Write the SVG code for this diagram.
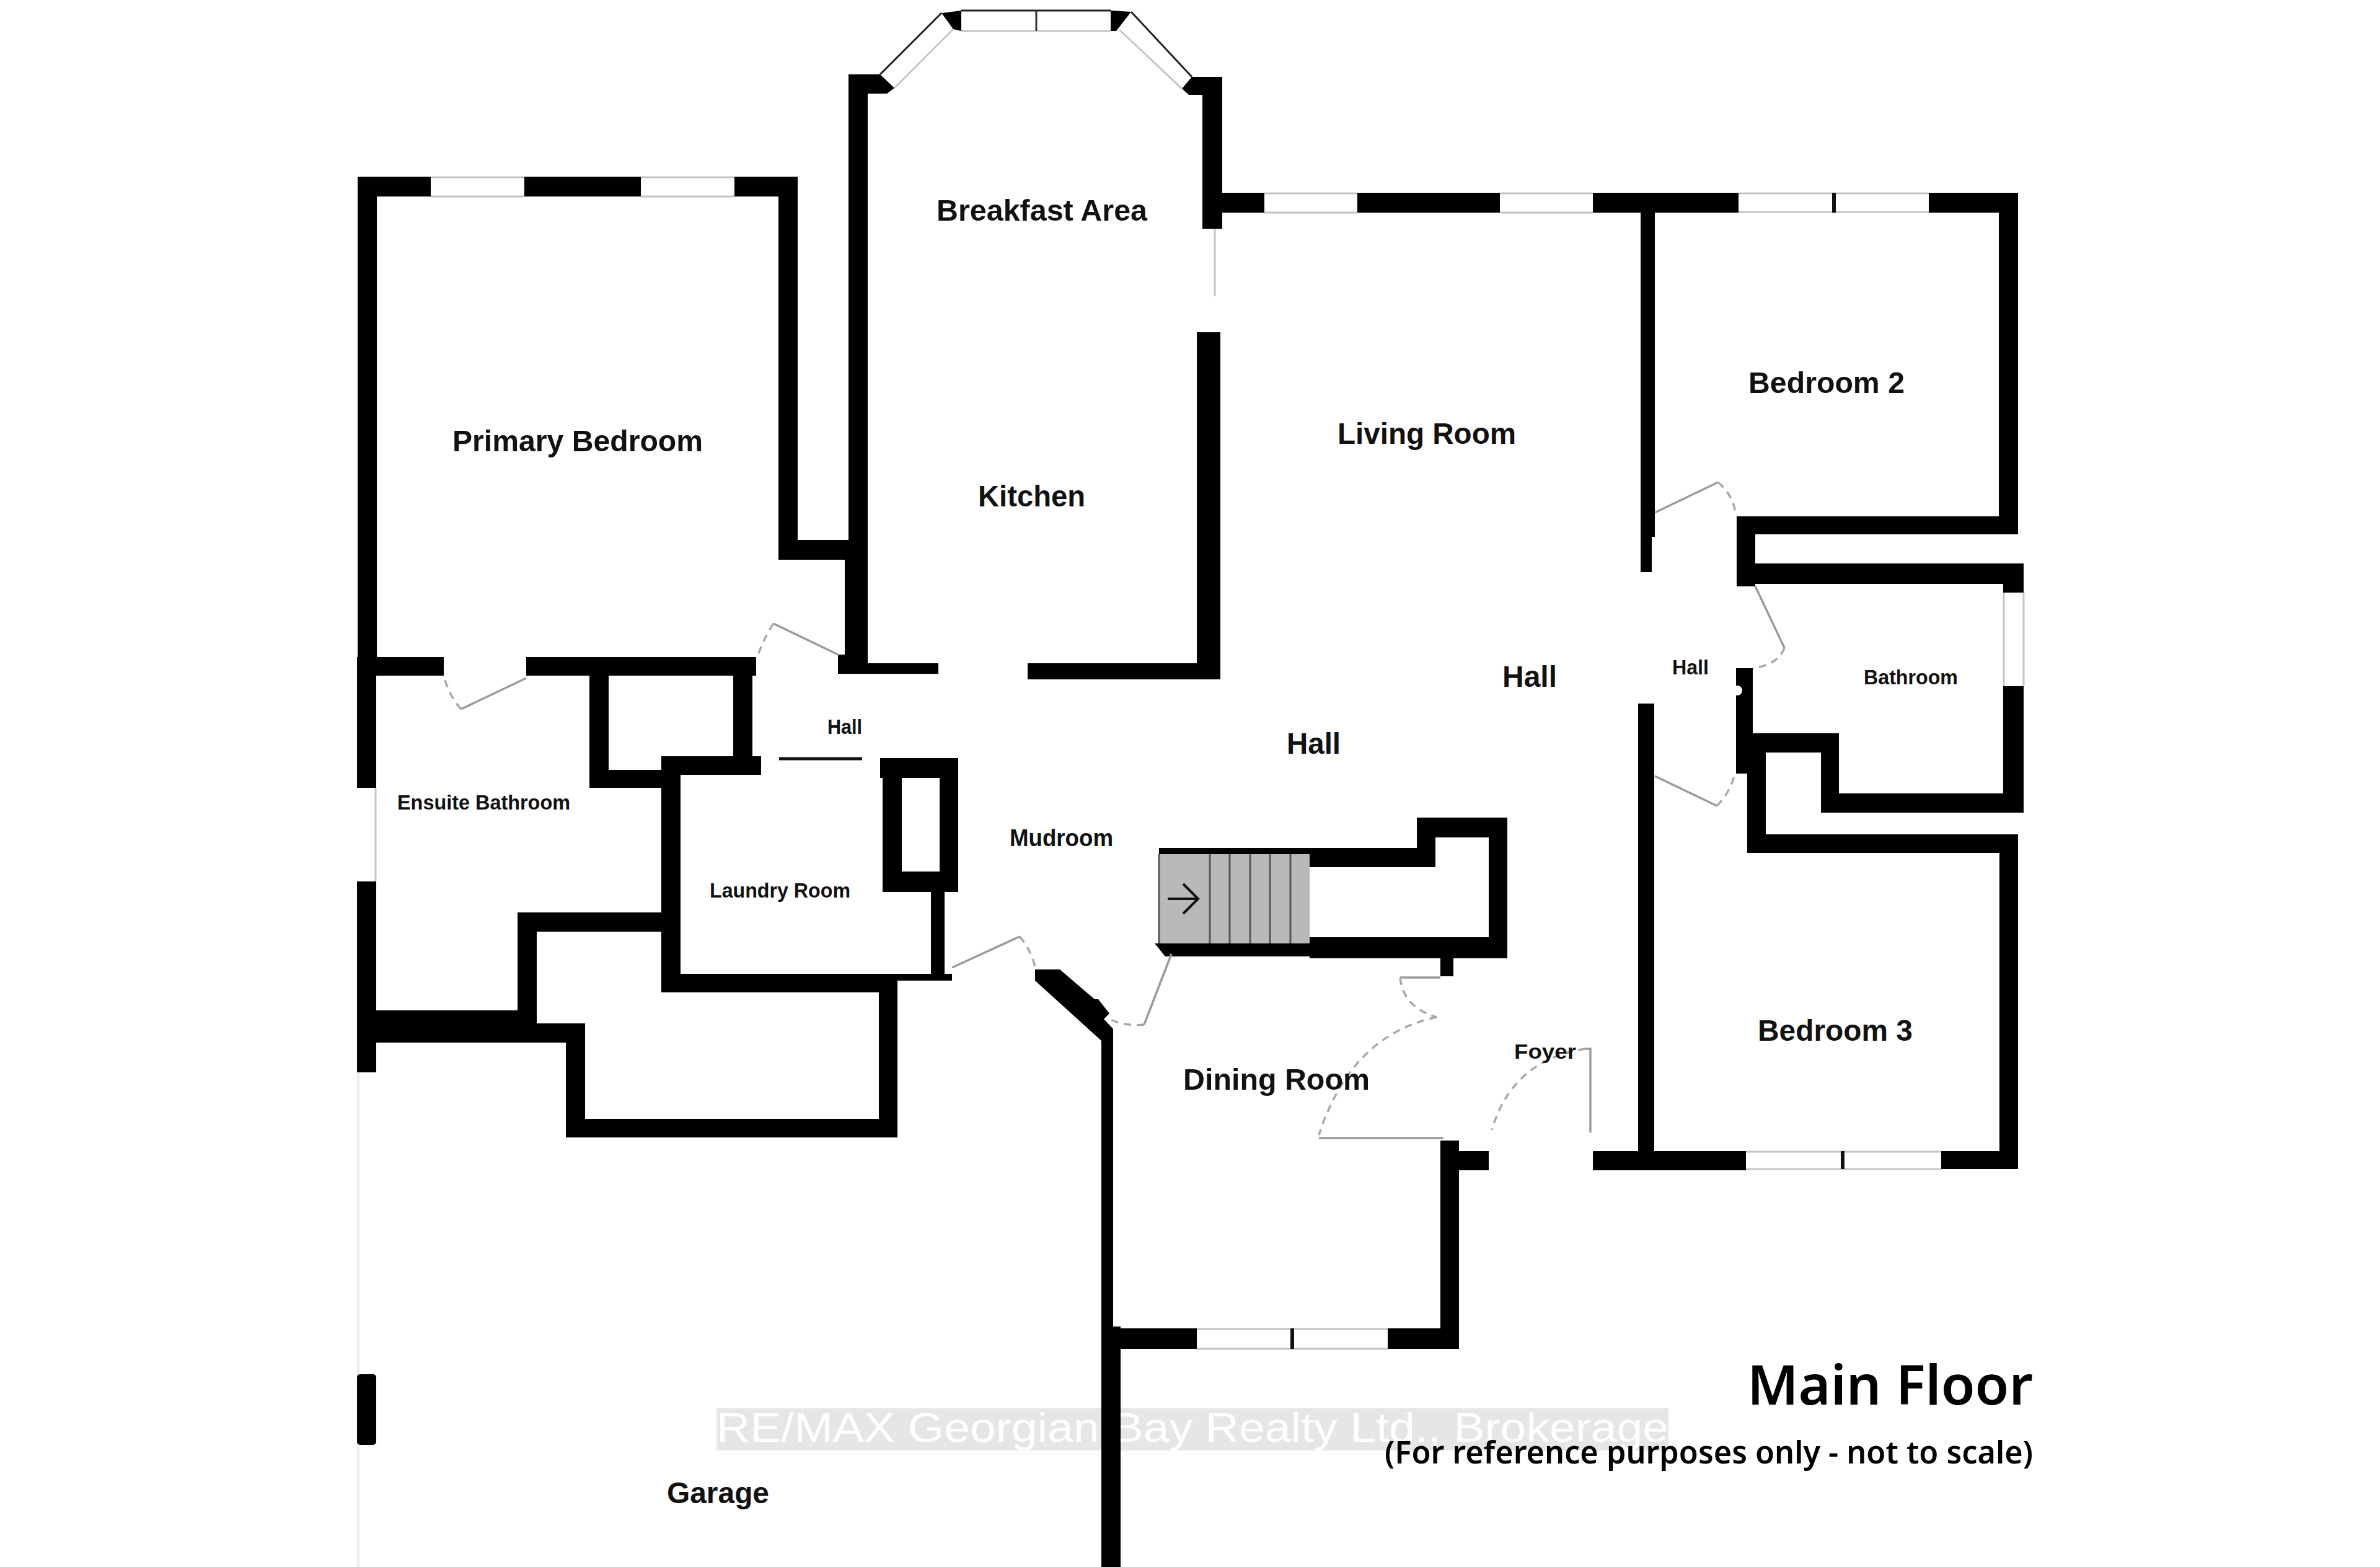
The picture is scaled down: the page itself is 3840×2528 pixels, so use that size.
<svg xmlns="http://www.w3.org/2000/svg" width="3840" height="2528" viewBox="0 0 3840 2528">
<style>
.w{fill:#000}
.gl{stroke:#c4c4c4;stroke-width:3;fill:none}
.ml{stroke:#111;stroke-width:6;fill:none}
.door{stroke:#9a9a9a;stroke-width:3.5;fill:none}
.arc{stroke:#a8a8a8;stroke-width:3.5;fill:none;stroke-dasharray:12 9}
.t{font-family:"Liberation Sans",Arial,sans-serif;font-weight:700;fill:#111}
.l{font-size:48px}.s{font-size:34px}
.h{font-family:"Noto Sans","Open Sans",sans-serif;font-weight:600;fill:#000}
</style>
<rect width="3840" height="2528" fill="#fff"/>
<g id="watermark">
<rect x="1156" y="2272" width="1536" height="68" fill="#e6e6e6"/>
<text x="1156" y="2326" font-family="Liberation Sans,Arial,sans-serif" font-size="66" fill="#fff" textLength="1536" lengthAdjust="spacingAndGlyphs">RE/MAX Georgian Bay Realty Ltd., Brokerage</text>
</g>
<g id="garage-lines">
<line x1="578" y1="1730" x2="578" y2="2528" stroke="#ececec" stroke-width="4"/>
</g>
<g id="walls">
<!-- primary bedroom -->
<rect class="w" x="577" y="285" width="118" height="32"/>
<rect class="w" x="846" y="285" width="188" height="32"/>
<rect class="w" x="1185" y="285" width="102" height="32"/>
<rect class="w" x="577" y="285" width="31" height="800"/>
<rect class="w" x="1256" y="285" width="31" height="618"/>
<rect class="w" x="1256" y="871" width="113" height="32"/>
<rect class="w" x="577" y="1060" width="139" height="30"/>
<rect class="w" x="849" y="1060" width="371" height="30"/>
<!-- kitchen -->
<rect class="w" x="1369" y="120" width="31" height="960"/>
<rect class="w" x="1363" y="871" width="37" height="216"/>
<polygon class="w" points="1369,120 1420,120 1443,142 1431,151 1369,151"/>
<rect class="w" x="1352" y="1056" width="48" height="31"/>
<rect class="w" x="1352" y="1070" width="162" height="17"/>
<rect class="w" x="1658" y="1070" width="311" height="26"/>
<rect class="w" x="1931" y="536" width="38" height="560"/>
<polygon class="w" points="1923,124 1972,124 1972,153 1918,153 1907,143"/>
<rect class="w" x="1940" y="124" width="32" height="245"/>
<polygon class="w" points="1519,21 1551,17 1551,50 1538,47"/>
<polygon class="w" points="1792,17 1825,19 1801,50 1792,50"/>
<!-- living room top -->
<rect class="w" x="1968" y="311" width="72" height="32"/>
<rect class="w" x="2190" y="311" width="230" height="32"/>
<rect class="w" x="2570" y="311" width="235" height="32"/>
<rect class="w" x="3112" y="311" width="144" height="32"/>
<rect class="w" x="2647" y="311" width="23" height="555"/>
<rect class="w" x="2647" y="860" width="18" height="63"/>
<rect class="w" x="2643" y="1135" width="26" height="751"/>
<!-- bedroom 2 -->
<rect class="w" x="3225" y="311" width="31" height="551"/>
<rect class="w" x="2802" y="833" width="454" height="29"/>
<rect class="w" x="2802" y="833" width="30" height="113"/>
<!-- bathroom -->
<rect class="w" x="2802" y="909" width="463" height="33"/>
<rect class="w" x="3232" y="909" width="33" height="47"/>
<rect class="w" x="3232" y="1107" width="33" height="204"/>
<rect class="w" x="2938" y="1280" width="327" height="31"/>
<rect class="w" x="2938" y="1183" width="29" height="128"/>
<rect class="w" x="2804" y="1183" width="163" height="31"/>
<rect class="w" x="2801" y="1078" width="27" height="170"/>
<circle cx="2803" cy="1114" r="8" fill="#fff"/>
<!-- bedroom 3 -->
<rect class="w" x="2819" y="1214" width="30" height="162"/>
<rect class="w" x="2819" y="1346" width="437" height="30"/>
<rect class="w" x="3226" y="1346" width="30" height="540"/>
<rect class="w" x="2570" y="1857" width="247" height="31"/>
<rect class="w" x="3132" y="1857" width="124" height="29"/>
<!-- ensuite / closets -->
<rect class="w" x="576" y="1060" width="31" height="211"/>
<rect class="w" x="576" y="1422" width="31" height="308"/>
<rect class="w" x="951" y="1060" width="31" height="211"/>
<rect class="w" x="951" y="1242" width="130" height="29"/>
<rect class="w" x="1183" y="1060" width="31" height="170"/>
<rect class="w" x="1067" y="1220" width="161" height="30"/>
<rect class="w" x="1067" y="1220" width="31" height="381"/>
<rect class="w" x="1067" y="1571" width="351" height="30"/>
<rect class="w" x="1418" y="1571" width="118" height="11"/>
<rect class="w" x="835" y="1472" width="232" height="31"/>
<rect class="w" x="835" y="1472" width="31" height="179"/>
<rect class="w" x="607" y="1630" width="228" height="52"/>
<rect class="w" x="835" y="1651" width="109" height="31"/>
<rect class="w" x="913" y="1651" width="31" height="184"/>
<rect class="w" x="913" y="1805" width="535" height="30"/>
<rect class="w" x="1418" y="1582" width="30" height="253"/>
<!-- laundry closet -->
<rect class="w" x="1420" y="1223" width="126" height="32"/>
<rect class="w" x="1424" y="1223" width="31" height="216"/>
<rect class="w" x="1516" y="1223" width="30" height="216"/>
<rect class="w" x="1424" y="1406" width="122" height="33"/>
<rect class="w" x="1502" y="1439" width="22" height="143"/>
<!-- garage east -->
<polygon class="w" points="1670,1564 1710,1564 1766,1612 1772,1612 1790,1635 1781,1644 1796,1660 1796,2140 1808,2140 1808,2528 1777,2528 1777,1679 1670,1582"/>
<rect class="w" x="576" y="2217" width="31" height="114" rx="5"/>
<!-- dining -->
<rect class="w" x="1798" y="2143" width="133" height="33"/>
<rect class="w" x="2239" y="2143" width="115" height="33"/>
<rect class="w" x="2324" y="1840" width="30" height="336"/>
<rect class="w" x="2354" y="1857" width="48" height="31"/>
<rect class="w" x="2324" y="1546" width="21" height="29"/>
<!-- stair enclosure -->
<rect class="w" x="1870" y="1368" width="446" height="10"/>
<rect class="w" x="2113" y="1368" width="203" height="31"/>
<rect class="w" x="2286" y="1319" width="146" height="32"/>
<rect class="w" x="2286" y="1319" width="30" height="80"/>
<rect class="w" x="2402" y="1319" width="30" height="227"/>
<rect class="w" x="2113" y="1512" width="319" height="34"/>
<polygon class="w" points="1863,1522 2113,1522 2113,1543 1880,1543"/>
</g>
<g id="windows">
<line class="gl" x1="695" y1="286" x2="846" y2="286"/><line class="gl" x1="695" y1="317" x2="846" y2="317"/>
<line class="gl" x1="1034" y1="286" x2="1185" y2="286"/><line class="gl" x1="1034" y1="317" x2="1185" y2="317"/>
<line class="gl" x1="2040" y1="312" x2="2190" y2="312"/><line class="gl" x1="2040" y1="343" x2="2190" y2="343"/>
<line class="gl" x1="2420" y1="312" x2="2570" y2="312"/><line class="gl" x1="2420" y1="343" x2="2570" y2="343"/>
<line class="gl" x1="2805" y1="312" x2="3112" y2="312"/><line class="gl" x1="2805" y1="342" x2="3112" y2="342"/>
<line class="ml" x1="2959" y1="311" x2="2959" y2="343"/>
<line class="gl" x1="3233" y1="956" x2="3233" y2="1107"/><line class="gl" x1="3265" y1="956" x2="3265" y2="1107"/>
<line class="gl" x1="2817" y1="1858" x2="3132" y2="1858"/><line class="gl" x1="2817" y1="1886" x2="3132" y2="1886"/>
<line class="ml" x1="2973" y1="1857" x2="2973" y2="1886"/>
<line class="gl" x1="1931" y1="2144" x2="2239" y2="2144"/><line class="gl" x1="1931" y1="2176" x2="2239" y2="2176"/>
<line class="ml" x1="2085" y1="2143" x2="2085" y2="2176"/>
<line class="gl" x1="606" y1="1271" x2="606" y2="1422"/>
<line x1="1551" y1="17" x2="1792" y2="17" stroke="#222" stroke-width="3"/>
<line class="gl" x1="1551" y1="50" x2="1792" y2="50"/>
<line x1="1672" y1="17" x2="1672" y2="50" stroke="#333" stroke-width="3"/>
<line x1="1420" y1="120" x2="1519" y2="21" stroke="#222" stroke-width="3"/>
<line class="gl" x1="1443" y1="142" x2="1538" y2="47"/>
<line x1="1825" y1="19" x2="1923" y2="124" stroke="#222" stroke-width="3"/>
<line class="gl" x1="1806" y1="48" x2="1907" y2="143"/>
<line class="gl" x1="1960" y1="369" x2="1960" y2="478"/>
</g>
<g id="doors">
<path class="door" d="M849 1094L744 1144"/><path class="arc" d="M744 1144Q724 1122 716 1090"/>
<path class="door" d="M1352 1056L1248 1006"/><path class="arc" d="M1248 1006Q1232 1030 1222 1060"/>
<path class="door" d="M1536 1561L1645 1511"/><path class="arc" d="M1645 1511Q1664 1532 1671 1564"/>
<path class="door" d="M1890 1539L1846 1653"/><path class="arc" d="M1846 1653Q1816 1656 1792 1645"/>
<line x1="1257" y1="1224" x2="1391" y2="1224" stroke="#111" stroke-width="5"/>
<path class="door" d="M2670 827L2772 778"/><path class="arc" d="M2772 778Q2796 798 2801 831"/>
<path class="door" d="M2832 946L2879 1045"/><path class="arc" d="M2879 1045Q2870 1072 2828 1078"/>
<path class="door" d="M2670 1252L2770 1300"/><path class="arc" d="M2770 1300Q2792 1278 2799 1248"/>
<path class="door" d="M2259 1577H2324"/><path class="arc" d="M2259 1577Q2264 1625 2318 1641"/>
<path class="arc" d="M2318 1641Q2180 1670 2128 1831"/><path class="door" d="M2128 1836H2329"/>
<path class="door" d="M2558 1692H2566V1827"/><path class="arc" d="M2558 1692Q2440 1710 2407 1823"/>
</g>
<g id="stairs">
<rect x="1870" y="1378" width="243" height="144" fill="#b9b9b9"/>
<line x1="1870" y1="1378" x2="1870" y2="1522" stroke="#555" stroke-width="3"/>
<g stroke="#555" stroke-width="3"><line x1="1952" y1="1378" x2="1952" y2="1522"/><line x1="1984" y1="1378" x2="1984" y2="1522"/><line x1="2017" y1="1378" x2="2017" y2="1522"/><line x1="2049" y1="1378" x2="2049" y2="1522"/><line x1="2082" y1="1378" x2="2082" y2="1522"/></g>
<path d="M1884 1450H1933M1909 1426L1933 1450L1909 1474" fill="none" stroke="#111" stroke-width="4"/>
</g>
<g id="labels">
<text class="t l" x="1511" y="356" textLength="340" lengthAdjust="spacingAndGlyphs">Breakfast Area</text>
<text class="t l" x="730" y="728" textLength="404" lengthAdjust="spacingAndGlyphs">Primary Bedroom</text>
<text class="t l" x="1578" y="817" textLength="173" lengthAdjust="spacingAndGlyphs">Kitchen</text>
<text class="t l" x="2158" y="716" textLength="288" lengthAdjust="spacingAndGlyphs">Living Room</text>
<text class="t l" x="2821" y="634" textLength="252" lengthAdjust="spacingAndGlyphs">Bedroom 2</text>
<text class="t l" x="2424" y="1108" textLength="88" lengthAdjust="spacingAndGlyphs">Hall</text>
<text class="t l" x="2076" y="1216" textLength="87" lengthAdjust="spacingAndGlyphs">Hall</text>
<text class="t l" x="2836" y="1679" textLength="250" lengthAdjust="spacingAndGlyphs">Bedroom 3</text>
<text class="t l" x="1909" y="1758" textLength="301" lengthAdjust="spacingAndGlyphs">Dining Room</text>
<text class="t l" x="1076" y="2425" textLength="165" lengthAdjust="spacingAndGlyphs">Garage</text>
<text class="t s" x="1335" y="1184" textLength="56" lengthAdjust="spacingAndGlyphs">Hall</text>
<text class="t s" x="641" y="1306" textLength="279" lengthAdjust="spacingAndGlyphs">Ensuite Bathroom</text>
<text class="t s" x="1145" y="1448" textLength="227" lengthAdjust="spacingAndGlyphs">Laundry Room</text>
<text class="t s" style="font-size:38px" x="1629" y="1365" textLength="167" lengthAdjust="spacingAndGlyphs">Mudroom</text>
<text class="t s" x="2698" y="1088" textLength="59" lengthAdjust="spacingAndGlyphs">Hall</text>
<text class="t s" x="3007" y="1104" textLength="152" lengthAdjust="spacingAndGlyphs">Bathroom</text>
<text class="t s" x="2443" y="1708" textLength="100" lengthAdjust="spacingAndGlyphs">Foyer</text>
<text class="h" font-size="88" x="2819" y="2266" textLength="461" lengthAdjust="spacingAndGlyphs">Main Floor</text>
<text class="h" font-size="50" x="2234" y="2361" textLength="1046" lengthAdjust="spacingAndGlyphs">(For reference purposes only - not to scale)</text>
</g>
</svg>
